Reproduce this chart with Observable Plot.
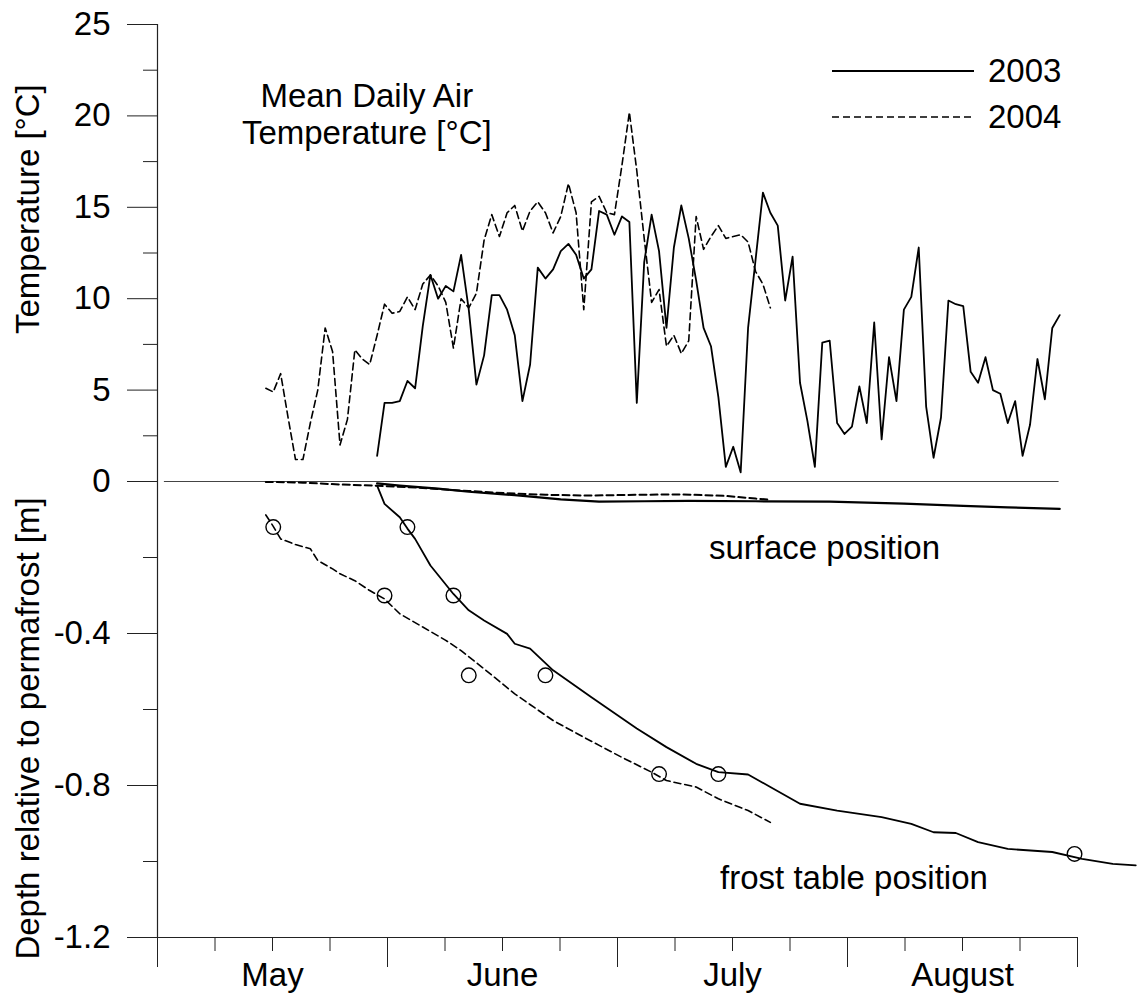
<!DOCTYPE html>
<html>
<head>
<meta charset="utf-8">
<script src="https://cdn.jsdelivr.net/npm/d3@7"></script>
<script src="https://cdn.jsdelivr.net/npm/@observablehq/plot@0.6"></script>
<style>
  html, body { margin: 0; padding: 0; background: #fff; }
  #fig { position: relative; width: 1143px; height: 998px; font-family: "Liberation Sans", Arial, Helvetica, sans-serif; }
  #fig svg.panel { position: absolute; left: 0; overflow: visible; }
  .legend { position: absolute; left: 832px; top: 48px; font-size: 33px; color: #000; }
  .legend-row { display: flex; align-items: center; height: 46px; }
  .legend-row svg { display: block; margin-right: 14px; }
</style>
</head>
<body>
<div id="fig"></div>
<script>
// ---- Axis vocabulary -------------------------------------------------------
const monthNames = ["May", "June", "July", "August"];
const tempTicks = [0, 5, 10, 15, 20, 25];
const tempMinorTicks = [2.5, 7.5, 12.5, 17.5, 22.5];
const depthTicks = [0, -0.4, -0.8, -1.2];
const depthMinorTicks = [-0.2, -0.6, -1.0];

// ---- Mean daily air temperature [°C], one value per day from the start date ----
const air2003Start = "2003-05-30";
const air2003 = [
  1.4, 4.3, 4.3, 4.4, 5.5, 5.1, 8.5, 11.3, 10.0, 10.7, 10.4, 12.4, 9.4, 5.3, 6.9,
  10.2, 10.2, 9.4, 8.0, 4.4, 6.4, 11.7, 11.1, 11.6, 12.6, 13.0, 12.4, 11.1, 11.6,
  14.8, 14.6, 13.5, 14.5, 14.2, 4.3, 12.0, 14.6, 12.6, 8.4, 12.8, 15.1, 13.3, 11.0,
  8.4, 7.4, 4.6, 0.8, 1.9, 0.5, 8.4, 12.1, 15.8, 14.7, 14.0, 9.9, 12.3, 5.4, 3.3,
  0.8, 7.6, 7.7, 3.2, 2.6, 3.0, 5.2, 3.2, 8.7, 2.3, 6.8, 4.4, 9.4, 10.1, 12.8, 4.1,
  1.3, 3.5, 9.9, 9.7, 9.6, 6.0, 5.4, 6.8, 5.0, 4.8, 3.2, 4.4, 1.4, 3.1, 6.7, 4.5,
  8.4, 9.1
];
const air2004Start = "2004-05-15";
const air2004 = [
  5.1, 4.9, 5.9, 3.5, 1.2, 1.2, 3.2, 5.0, 8.4, 7.1, 2.0, 3.4, 7.2, 6.7, 6.4, 8.0,
  9.7, 9.2, 9.3, 10.1, 9.4, 10.8, 11.3, 10.7, 9.8, 7.3, 10.0, 9.5, 10.3, 13.2, 14.6,
  13.4, 14.7, 15.1, 13.7, 14.8, 15.3, 14.7, 13.6, 14.5, 16.3, 14.7, 9.4, 15.3, 15.6,
  14.7, 14.6, 17.3, 20.2, 17.0, 13.3, 9.8, 10.5, 7.4, 8.0, 7.0, 7.7, 14.5, 12.7,
  13.4, 14.0, 13.3, 13.4, 13.5, 13.1, 11.5, 10.8, 9.5
];

// ---- Ground surface position relative to permafrost [m] ----
const surface2003Dates = ["2003-05-30", "2003-06-02", "2003-06-07", "2003-06-11", "2003-06-17",
  "2003-06-23", "2003-06-28", "2003-07-04", "2003-07-10", "2003-07-19", "2003-07-29",
  "2003-08-08", "2003-08-16", "2003-08-22", "2003-08-29"];
const surface2003Depth = [-0.005, -0.011, -0.019, -0.027, -0.036, -0.047, -0.053, -0.052,
  -0.051, -0.052, -0.053, -0.058, -0.064, -0.068, -0.072];
const surface2004Dates = ["2004-05-15", "2004-05-20", "2004-05-25", "2004-05-30", "2004-06-05",
  "2004-06-11", "2004-06-16", "2004-06-21", "2004-06-27", "2004-07-03", "2004-07-09",
  "2004-07-15", "2004-07-19", "2004-07-21"];
const surface2004Depth = [-0.001, -0.003, -0.008, -0.011, -0.017, -0.025, -0.031, -0.035,
  -0.037, -0.035, -0.034, -0.038, -0.045, -0.048];

// ---- Frost table position relative to permafrost [m] ----
const frost2003Dates = ["2003-05-30", "2003-05-31", "2003-06-02", "2003-06-03", "2003-06-04",
  "2003-06-06", "2003-06-09", "2003-06-11", "2003-06-13", "2003-06-16", "2003-06-17",
  "2003-06-19", "2003-06-22", "2003-06-27", "2003-07-03", "2003-07-07", "2003-07-11",
  "2003-07-14", "2003-07-18", "2003-07-21", "2003-07-25", "2003-07-30", "2003-08-05",
  "2003-08-09", "2003-08-12", "2003-08-15", "2003-08-18", "2003-08-22", "2003-08-28",
  "2003-09-01", "2003-09-05", "2003-09-08"];
const frost2003Depth = [-0.011, -0.059, -0.094, -0.124, -0.151, -0.221, -0.296, -0.339,
  -0.366, -0.401, -0.427, -0.44, -0.497, -0.568, -0.65, -0.699, -0.743, -0.765, -0.771,
  -0.804, -0.848, -0.866, -0.883, -0.901, -0.923, -0.925, -0.949, -0.967, -0.975, -0.993,
  -1.006, -1.01];
const frost2004Dates = ["2004-05-15", "2004-05-16", "2004-05-17", "2004-05-19", "2004-05-21",
  "2004-05-22", "2004-05-24", "2004-05-25", "2004-05-27", "2004-05-29", "2004-05-31",
  "2004-06-02", "2004-06-05", "2004-06-08", "2004-06-10", "2004-06-13", "2004-06-17",
  "2004-06-22", "2004-06-26", "2004-07-01", "2004-07-05", "2004-07-07", "2004-07-11",
  "2004-07-14", "2004-07-18", "2004-07-21"];
const frost2004Depth = [-0.088, -0.118, -0.151, -0.166, -0.177, -0.208, -0.23, -0.243,
  -0.261, -0.287, -0.309, -0.348, -0.383, -0.418, -0.445, -0.493, -0.559, -0.629, -0.673,
  -0.726, -0.765, -0.787, -0.804, -0.835, -0.866, -0.897];

// ---- Frost probe measurements [m] ----
const probe2003Dates = ["2003-06-03", "2003-06-09", "2003-06-21", "2003-07-14", "2003-08-31"];
const probe2003Depth = [-0.12, -0.30, -0.51, -0.77, -0.98];
const probe2004Dates = ["2004-05-16", "2004-05-31", "2004-06-11", "2004-07-06"];
const probe2004Depth = [-0.12, -0.30, -0.51, -0.77];

// ---- Helpers ---------------------------------------------------------------
const parse = d3.utcParse("%Y-%m-%d");
// Each month gets an equal share of the time axis (May = 0 … August = 3).
function monthPos(date) {
  const m = date.getUTCMonth();
  const days = new Date(Date.UTC(date.getUTCFullYear(), m + 1, 0)).getUTCDate();
  return (m - 4) + (date.getUTCDate() - 1 + 0.6) / days;
}
const daily = (start, values) => {
  const t0 = parse(start);
  return values.map((v, i) => ({date: d3.utcDay.offset(t0, i), value: v}));
};
const paired = (dates, values) => dates.map((d, i) => ({date: parse(d), value: values[i]}));

const airA = daily(air2003Start, air2003);
const airB = daily(air2004Start, air2004);
const surfA = paired(surface2003Dates, surface2003Depth);
const surfB = paired(surface2004Dates, surface2004Depth);
const frostA = paired(frost2003Dates, frost2003Depth);
const frostB = paired(frost2004Dates, frost2004Depth);
const probes = [...paired(probe2003Dates, probe2003Depth), ...paired(probe2004Dates, probe2004Depth)];

const X = d => monthPos(d.date);
const xDomain = [0, 4];
const quarterTicks = d3.range(17).map(i => i / 4);
const monthEdges = quarterTicks.filter((t, i) => i % 4 === 0);
const quarterOnly = quarterTicks.filter((t, i) => i % 4 !== 0);
const monthCenters = monthNames.map((m, i) => i + 0.5);

const W = 1143, ML = 157, MR = 66;
const FONT = "\"Liberation Sans\", Arial, Helvetica, sans-serif";
const baseStyle = {fontFamily: FONT, fontSize: "33px", color: "#000", background: "transparent", overflow: "visible"};
const axisInk = "#222";
const dash = "7,4";

// ---- Upper panel: air temperature ------------------------------------------
const upper = Plot.plot({
  width: W, height: 501,
  marginLeft: ML, marginRight: MR, marginTop: 24, marginBottom: 20,
  style: baseStyle,
  x: {domain: xDomain, axis: null},
  y: {domain: [0, 25]},
  marks: [
    Plot.ruleX([xDomain[0]], {y1: 0, y2: 25, stroke: axisInk, strokeWidth: 1.2}),
    Plot.axisY(tempTicks, {tickSize: 30, tickPadding: 17, tickFormat: d => String(d), label: null, stroke: axisInk}),
    Plot.axisY(tempMinorTicks, {tickSize: 14, tickFormat: () => "", label: null, stroke: axisInk}),
    Plot.ruleY([0], {x1: 0.03, x2: 3.92, stroke: "#444", strokeWidth: 1}),
    Plot.line(airB, {x: X, y: "value", stroke: "#000", strokeWidth: 1.6, strokeDasharray: dash}),
    Plot.line(airA, {x: X, y: "value", stroke: "#000", strokeWidth: 1.8}),
    Plot.text(["Mean Daily Air\nTemperature [°C]"], {x: 0.91, y: 20.13, text: d => d, fontSize: 33, lineHeight: 1.12, textAnchor: "middle", lineAnchor: "middle", fill: "#000"}),
    Plot.text(["Temperature [°C]"], {x: xDomain[0], y: 14.9, text: d => d, dx: -129, rotate: -90, fontSize: 33, lineAnchor: "middle", textAnchor: "middle", fill: "#000"})
  ]
});
upper.classList.add("panel");
upper.style.top = "0px";

// ---- Lower panel: surface and frost table depth ----------------------------
const lower = Plot.plot({
  width: W, height: 526,
  marginLeft: ML, marginRight: MR, marginTop: 9, marginBottom: 61,
  style: baseStyle,
  x: {domain: xDomain},
  y: {domain: [-1.2, 0]},
  marks: [
    Plot.ruleX([xDomain[0]], {y1: -1.2, y2: 0, stroke: axisInk, strokeWidth: 1.2}),
    Plot.ruleY([-1.2], {x1: xDomain[0], x2: xDomain[1], stroke: axisInk, strokeWidth: 1.2}),
    Plot.axisY(depthTicks, {tickSize: 30, tickPadding: 17, tickFormat: d => d === 0 ? "" : d.toFixed(1), label: null, stroke: axisInk}),
    Plot.axisY(depthMinorTicks, {tickSize: 14, tickFormat: () => "", label: null, stroke: axisInk}),
    Plot.axisX(monthEdges, {tickSize: 30, tickFormat: () => "", label: null, stroke: axisInk}),
    Plot.axisX(quarterOnly, {tickSize: 14, tickFormat: () => "", label: null, stroke: axisInk}),
    Plot.axisX(monthCenters, {tickSize: 0, tickPadding: 25, tickFormat: d => monthNames[Math.floor(d)], label: null}),
    Plot.line(surfB, {x: X, y: "value", stroke: "#000", strokeWidth: 2, strokeDasharray: dash}),
    Plot.line(surfA, {x: X, y: "value", stroke: "#000", strokeWidth: 2.2}),
    Plot.line(frostB, {x: X, y: "value", stroke: "#000", strokeWidth: 1.6, strokeDasharray: dash}),
    Plot.line(frostA, {x: X, y: "value", stroke: "#000", strokeWidth: 1.8}),
    Plot.dot(probes, {x: X, y: "value", r: 7.3, stroke: "#000", strokeWidth: 1.4, fill: "none"}),
    Plot.text(["surface position"], {x: 2.9, y: -0.176, text: d => d, fontSize: 33, textAnchor: "middle", lineAnchor: "middle", fill: "#000"}),
    Plot.text(["frost table position"], {x: 3.028, y: -1.044, text: d => d, fontSize: 33, textAnchor: "middle", lineAnchor: "middle", fill: "#000"}),
    Plot.text(["Depth relative to permafrost [m]"], {x: xDomain[0], y: -0.65, text: d => d, dx: -129, rotate: -90, fontSize: 33, lineAnchor: "middle", textAnchor: "middle", fill: "#000"})
  ]
});
lower.classList.add("panel");
lower.style.top = "472px";

const fig = document.getElementById("fig");
fig.append(upper, lower);

// ---- Legend ----------------------------------------------------------------
const legendItems = [{year: "2003", dashed: false}, {year: "2004", dashed: true}];
const legend = d3.select(fig).append("div").attr("class", "legend");
const rows = legend.selectAll("div").data(legendItems).join("div").attr("class", "legend-row");
const sw = rows.append("svg").attr("width", 142).attr("height", 6);
sw.append("line")
  .attr("x1", 0).attr("x2", 142).attr("y1", 3).attr("y2", 3)
  .attr("stroke", "#000").attr("stroke-width", d => d.dashed ? 1.6 : 1.8)
  .attr("stroke-dasharray", d => d.dashed ? dash : null);
rows.append("span").text(d => d.year);
</script>
</body>
</html>
